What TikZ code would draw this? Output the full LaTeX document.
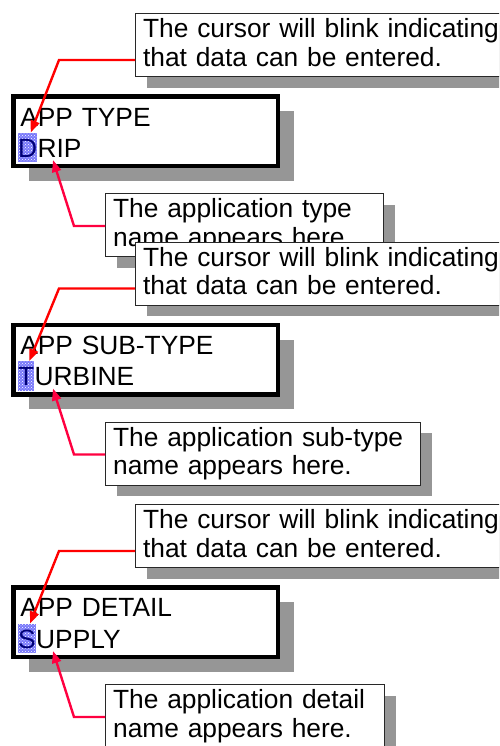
\documentclass[tikz,border=0pt]{standalone}
\usepackage{fontspec}
\setmainfont{Liberation Sans}
\usepackage{tikz}
\usetikzlibrary{arrows.meta,shadows,patterns,calc}

\newcommand{\lowend}{\rule[-5.5pt]{0pt}{5.5pt}}

\begin{document}
\begin{tikzpicture}[
  x=1pt, y=-1pt,
  font=\fontsize{26.35}{28.5}\selectfont,
  pNote/.style={rectangle, anchor=north west, align=left,
    inner xsep=7.5pt, inner ysep=5pt,
    fill=white, draw={rgb,255:red,40;green,40;blue,40},
    line width=1.2pt,
    drop shadow={shadow xshift=11pt, shadow yshift=-11pt,
      fill={rgb,255:red,150;green,150;blue,150}, opacity=1}},
  pScreen/.style={rectangle, anchor=north west, align=left,
    text width=251pt, minimum height=69.5pt,
    inner xsep=6.75pt, inner ysep=0pt,
    fill=white, draw=black, line width=4.5pt,
    drop shadow={shadow xshift=15.5pt, shadow yshift=-14.5pt,
      fill={rgb,255:red,150;green,150;blue,150}, opacity=1}},
  pMark/.style={rectangle, anchor=base west, inner sep=0pt,
    text height=24.5pt, text depth=5pt,
    preaction={fill={rgb,255:red,120;green,120;blue,250}},
    pattern=crosshatch dots, pattern color=white,
    text={rgb,255:red,0;green,0;blue,120}},
  pVal/.style={anchor=base west, inner sep=0pt},
  parr/.style={-{Triangle[length=12pt,width=9pt]},
    line width=2.4pt, line join=miter,
    color={rgb,255:red,255;green,0;blue,0}},
  parrB/.style={parr,
    color={rgb,255:red,255;green,0;blue,64}},
]

  %% ── Page ────────────────────────────────────────────────────
  \path[use as bounding box, fill=white] (0,0) rectangle (499,746);
  \clip (0,0) rectangle (499,746);

  %% ── Three screens with their notes ──────────────────────────
  \foreach \g/\off/\ttl/\chr/\rst/\nw/\kind in {
      1/0/APP TYPE/D/RIP/263/type,
      2/228.5/APP SUB-TYPE/T/URBINE/300/sub-type,
      3/491/APP DETAIL/S/UPPLY/264/detail}{
    \node[pNote, text width=364pt] (cur\g) at (135,13+\off) {%
      The cursor will blink indicating\\that data can be entered.\lowend};
    \node[pScreen] (scr\g) at (11.25,94.25+\off) {\ttl\\\phantom{\chr\rst}};
    \node[pMark] (hl\g) at ($(scr\g.south west)+(6.75,-11)$) {\chr};
    \node[pVal] (val\g) at (hl\g.base east) {\rst};
    \node[pNote, text width=\nw pt] (nam\g) at (105,193+\off) {%
      The application \kind\\name appears here.\lowend};

    %% ── Arrows ──────────────────────────────────────────────
    \coordinate (cb\g) at (59,60+\off);
    \coordinate (nb\g) at (74,226+\off);
    \coordinate (nt\g) at (53,160+\off);
    \draw[parr]  (cur\g.west |- cb\g) -- (cb\g) -- ([xshift=3pt]hl\g.north);
    \draw[parrB] (nam\g.west |- nb\g) -- (nb\g) -- (nt\g);
  }

\end{tikzpicture}
\end{document}
